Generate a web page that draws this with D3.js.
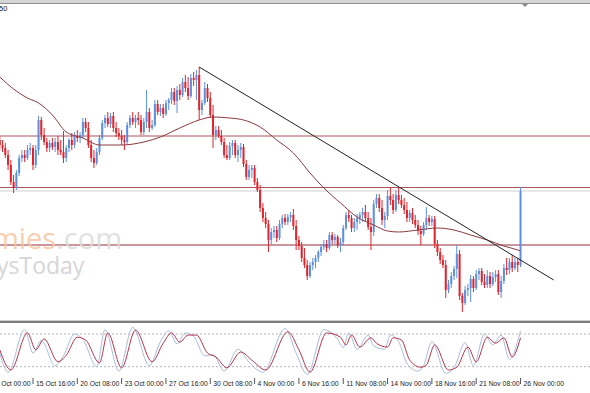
<!DOCTYPE html>
<html>
<head>
<meta charset="utf-8">
<script src="https://cdnjs.cloudflare.com/ajax/libs/d3/7.8.5/d3.min.js"></script>
<style>
html, body { margin: 0; padding: 0; background: #fff; overflow: hidden; }
svg { display: block; }
text { font-family: "Liberation Sans", Arial, sans-serif; }
</style>
</head>
<body>
<div class="chart"></div>
<script>
// H4 chart, bar 0 = 13 Oct 00:00, prices in pips above basePrice
const basePrice = 1.2, pipSize = 0.0001;
const firstBar = 4;

// [open, high, low, close] for bars 4..192
const candles = [
  [860,864,850,855],[855,860,848,852],[852,857,842,845],[845,850,830,835],[835,840,815,818],[818,825,807,812],
  [812,830,810,827],[827,845,824,842],[842,850,838,845],[845,850,838,842],[842,855,840,850],[850,857,845,852],
  [852,855,830,835],[835,855,832,850],[850,884,845,880],[880,883,860,865],[865,872,855,858],[858,862,848,852],
  [852,860,848,857],[857,862,850,853],[853,862,848,858],[858,864,845,850],[850,860,845,848],[848,869,837,842],
  [842,855,838,852],[852,862,848,860],[860,867,850,855],[855,868,852,864],[864,870,858,862],[862,868,857,865],
  [865,882,862,878],[878,882,868,872],[872,878,852,855],[855,860,838,842],[842,850,832,837],[837,852,835,848],
  [848,865,845,862],[862,880,860,877],[877,885,872,882],[882,888,873,876],[876,887,872,884],[884,888,868,872],
  [872,878,863,867],[867,872,860,864],[864,870,855,860],[860,865,850,858],[858,878,855,875],[875,885,872,882],
  [882,888,875,878],[878,885,872,882],[882,888,875,880],[880,885,865,868],[868,882,865,878],[878,910,872,888],
  [888,892,868,872],[872,880,870,875],[875,900,873,896],[896,900,885,888],[888,896,884,892],[892,896,882,886],
  [886,900,884,897],[897,902,890,900],[900,912,896,908],[908,912,895,899],[899,914,887,910],[910,916,900,905],
  [905,922,903,918],[918,925,908,912],[912,923,900,904],[904,926,902,922],[922,928,914,920],[920,930,900,925],
  [925,933,880,890],[890,900,885,897],[897,918,895,912],[912,916,898,902],[902,908,882,885],[885,895,852,865],
  [865,874,860,870],[870,874,862,864],[864,870,855,858],[858,862,842,845],[845,855,840,842],[842,858,840,854],
  [854,860,845,857],[857,860,842,845],[845,855,838,850],[850,857,842,853],[853,856,833,836],[836,840,820,823],
  [823,835,820,830],[830,835,822,832],[832,835,815,818],[818,822,808,810],[810,815,788,792],[792,797,778,782],
  [782,788,772,776],[776,780,748,760],[760,772,755,768],[768,774,762,770],[770,774,758,762],[762,780,760,776],
  [776,785,772,782],[782,786,775,778],[778,786,775,783],[783,788,778,785],[785,791,770,774],[774,780,750,760],
  [760,764,750,754],[754,758,738,742],[742,752,732,735],[735,740,720,724],[724,738,722,735],[735,742,730,738],
  [738,745,732,742],[742,750,738,748],[748,756,744,753],[753,760,750,756],[756,760,748,752],[752,768,750,765],
  [765,768,756,760],[760,766,756,763],[763,765,752,755],[755,762,748,758],[758,775,754,772],[772,788,770,785],
  [785,790,778,782],[782,785,768,772],[772,782,768,778],[778,786,770,782],[782,788,776,785],[785,792,778,788],
  [788,795,778,782],[782,788,770,773],[773,782,750,768],[768,800,764,796],[796,806,792,802],[802,806,788,792],
  [792,800,775,780],[780,788,772,784],[784,810,780,804],[804,813,795,800],[800,806,786,790],[790,810,788,805],
  [805,812,796,800],[800,805,792,795],[795,802,786,790],[790,798,778,782],[782,790,778,787],[787,792,776,780],
  [780,785,772,775],[775,780,765,769],[769,774,755,766],[766,778,764,775],[775,793,770,782],[782,785,774,778],
  [778,784,774,781],[781,784,752,756],[756,760,744,748],[748,752,736,740],[740,745,732,735],[735,740,702,710],
  [710,720,707,716],[716,728,712,724],[724,734,720,731],[731,755,722,746],[746,750,700,704],[704,707,688,697],
  [697,714,695,710],[710,716,704,712],[712,725,698,721],[721,724,708,712],[712,730,710,726],[726,732,720,729],
  [729,732,715,718],[718,726,712,715],[715,730,712,724],[724,728,712,716],[716,728,714,723],[723,730,718,726],
  [726,730,705,708],[708,724,702,719],[719,736,716,732],[732,742,725,730],[730,742,726,738],[738,745,728,732],
  [732,742,730,738],[738,742,728,735],[735,813,733,809]
];

const tickLabels = ['13 Oct 00:00','15 Oct 16:00','20 Oct 08:00','23 Oct 00:00','27 Oct 16:00','30 Oct 08:00',
  '4 Nov 00:00','6 Nov 16:00','11 Nov 08:00','14 Nov 00:00','18 Nov 16:00','21 Nov 08:00','26 Nov 00:00'];
const tickBars = [0,16,32,48,64,80,96,112,128,144,160,176,192];

// moving average, [bar, pips]
const maPoints = [[4,923],[9,911],[14,902],[18,897],[23,885],[28,868],[34,862],[40,855],[48,855],[56,858],
  [62,863],[69,872],[76,880],[81,883],[87,882],[92,880],[98,873],[104,860],[110,847],[116,827],[121,812],
  [127,797],[133,783],[139,775],[144,769],[148,768],[155,770],[162,772],[168,770],[174,765],[180,760],
  [186,754],[191,750],[192,749]];

const levels = [864, 812.5, 755];
const trendline = [[76,933],[204,720]];

// stochastic, [bar, value]
const stochMain = [[4,45],[7,10],[13,88],[16,45],[19,68],[24,22],[27,40],[31,80],[34,70],[39,20],[42,88],
  [47,12],[52,92],[58,22],[62,66],[65,86],[68,62],[71,82],[74,76],[78,40],[81,42],[85,12],[90,52],[94,28],
  [99,10],[107,90],[111,45],[115,6],[121,88],[126,70],[128,55],[130,82],[133,52],[137,78],[139,58],[143,52],
  [145,78],[148,66],[151,26],[155,12],[157,22],[160,66],[165,8],[168,18],[172,64],[175,22],[179,80],[182,60],
  [185,78],[188,34],[192,86]];
const stochSignal = [[4,51],[8,14],[14,82],[17,51],[20,71],[25,29],[28,41],[32,74],[35,69],[40,27],[43,82],
  [48,18],[53,87],[59,29],[63,63],[66,82],[69,65],[72,78],[75,78],[79,45],[82,38],[86,18],[91,47],[95,32],
  [100,14],[108,84],[112,51],[116,10],[122,82],[127,74],[129,60],[131,78],[134,56],[138,73],[140,63],[144,56],
  [146,73],[149,69],[152,32],[156,19],[158,23],[161,60],[166,14],[169,19],[173,56],[176,29],[180,74],[183,63],
  [186,73],[189,38],[192,73]];

const w = 590, h = 393;
const price = p => basePrice + p * pipSize;

const svg = d3.select('.chart').append('svg').attr('width', w).attr('height', h);

const x = d3.scaleLinear().domain([0, 192]).range([-11.32, 520.52]);
const y = d3.scaleLinear().domain([1.2686, 1.2996]).range([314, 4]);
const ys = d3.scaleLinear().domain([0, 100]).range([377.6, 323.1]);

svg.append('rect').attr('width', w).attr('height', h).attr('fill', '#fff');

const defs = svg.append('defs');
defs.append('clipPath').attr('id', 'mainClip').append('rect').attr('x', 0).attr('y', 4).attr('width', w).attr('height', 316);
defs.append('clipPath').attr('id', 'subClip').append('rect').attr('x', 0).attr('y', 323).attr('width', w).attr('height', 55);

// top border
svg.append('rect').attr('x', 0).attr('y', 0).attr('width', w).attr('height', 3).attr('fill', '#d6d6d6');
svg.append('line').attr('x1', 0).attr('x2', w).attr('y1', 3.5).attr('y2', 3.5).attr('stroke', '#8c8c8c');
svg.append('path').attr('d', 'M522,4L528,4L525,7Z').attr('fill', '#888');

const main = svg.append('g').attr('clip-path', 'url(#mainClip)');

// bid line
const bid = y(price(candles[candles.length - 1][3]));
main.append('line').attr('x1', 0).attr('x2', w).attr('y1', bid).attr('y2', bid)
  .attr('stroke', '#d0d0d0').attr('stroke-width', 1);

// horizontal levels
main.selectAll('line.level').data(levels).enter().append('line')
  .attr('class', 'level')
  .attr('x1', 0).attr('x2', w)
  .attr('y1', d => y(price(d))).attr('y2', d => y(price(d)))
  .attr('stroke', (d, i) => i === 2 ? '#c9969c' : '#a8545c')
  .attr('stroke-width', (d, i) => i === 2 ? 2 : 1);

// candles
const bars = main.selectAll('g.bar').data(candles).enter().append('g').attr('class', 'bar');
const col = d => d[3] >= d[0] ? '#5d8fe0' : '#e3232b';
bars.append('line')
  .attr('x1', (d, i) => x(i + firstBar)).attr('x2', (d, i) => x(i + firstBar))
  .attr('y1', d => y(price(d[1]))).attr('y2', d => y(price(d[2])))
  .attr('stroke', col).attr('stroke-width', 1);
bars.append('rect')
  .attr('x', (d, i) => x(i + firstBar) - 1)
  .attr('width', 2)
  .attr('y', d => y(price(Math.max(d[0], d[3]))))
  .attr('height', d => Math.max(1, Math.abs(y(price(d[0])) - y(price(d[3])))))
  .attr('fill', col);

// moving average
const maLine = d3.line().x(d => x(d[0])).y(d => y(price(d[1]))).curve(d3.curveMonotoneX);
main.append('path').datum(maPoints).attr('d', maLine)
  .attr('fill', 'none').attr('stroke', '#8a3a3e').attr('stroke-width', 1);

// trendline
main.append('line')
  .attr('x1', x(trendline[0][0])).attr('y1', y(price(trendline[0][1])))
  .attr('x2', x(trendline[1][0])).attr('y2', y(price(trendline[1][1])))
  .attr('stroke', '#222').attr('stroke-width', 1);

// watermark
const wm = svg.append('g').attr('opacity', 0.85);
const t1 = wm.append('text').attr('x', 122).attr('y', 249).attr('text-anchor', 'end')
  .style('font-family', '"Open Sans", sans-serif').style('font-size', '29px');
t1.append('tspan').attr('fill', '#f7c7a2').text('Economies');
t1.append('tspan').attr('fill', '#dcdcdc').text('.com');
wm.append('text').attr('x', -3).attr('y', 274)
  .style('font-family', '"Open Sans", sans-serif').style('font-size', '23px')
  .attr('fill', '#cfcfcf').text('ysToday');

// header fragment
svg.append('text').attr('x', -1).attr('y', 11).attr('fill', '#222').style('font-size', '7.5px').text('50');

// separator between windows
svg.append('rect').attr('x', 0).attr('y', 320).attr('width', w).attr('height', 1).attr('fill', '#cfcfcf');
svg.append('rect').attr('x', 0).attr('y', 321).attr('width', w).attr('height', 2).attr('fill', '#7c7c7c');

// stochastic window
const sub = svg.append('g').attr('clip-path', 'url(#subClip)');
sub.selectAll('line.lvl').data([80, 20]).enter().append('line')
  .attr('x1', 0).attr('x2', w).attr('y1', d => ys(d)).attr('y2', d => ys(d))
  .attr('stroke', '#b5b5b5').attr('stroke-dasharray', '2,2');
const sLine = d3.line().x(d => x(d[0])).y(d => ys(d[1])).curve(d3.curveMonotoneX);
sub.append('path').datum(stochMain).attr('d', sLine)
  .attr('fill', 'none').attr('stroke', '#a9bddc').attr('stroke-width', 1);
sub.append('path').datum(stochSignal).attr('d', sLine)
  .attr('fill', 'none').attr('stroke', '#b8344a').attr('stroke-width', 1);

// time axis
const xAxis = d3.axisBottom(x).tickValues(tickBars).tickFormat((d, i) => tickLabels[i]).tickSize(6).tickSizeOuter(0);
const ax = svg.append('g').attr('transform', 'translate(-0.5,378)').call(xAxis);
ax.select('.domain').remove();
ax.selectAll('.tick line').attr('stroke', '#555');
ax.selectAll('.tick text')
  .attr('text-anchor', 'start').attr('x', 3).attr('y', 7.5).attr('dy', 0)
  .attr('fill', '#222')
  .style('font-family', '"Liberation Sans", Arial, sans-serif').style('font-size', '6.8px');
</script>
</body>
</html>
